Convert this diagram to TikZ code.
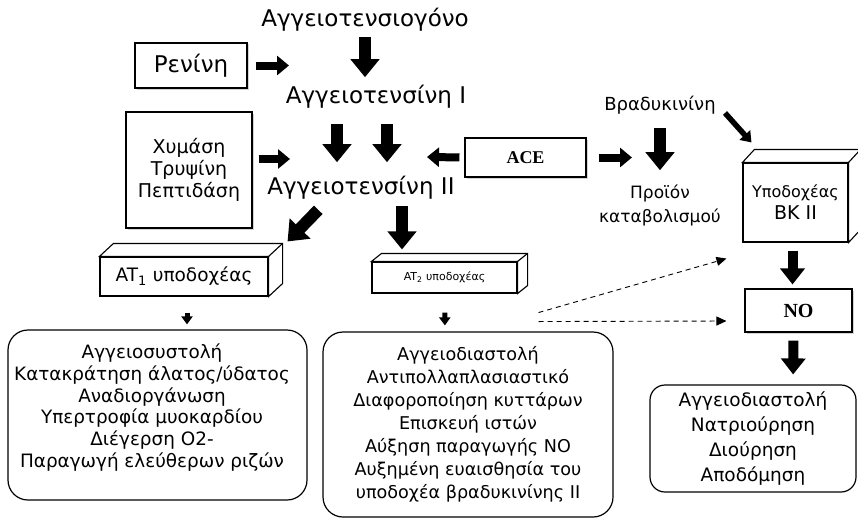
\documentclass[tikz,border=0pt]{standalone}
\usepackage{fontspec}
\setmainfont{DejaVu Sans}
\newfontfamily\timesfont{Liberation Serif}
\usepackage{tikz}
\usetikzlibrary{arrows.meta,shadows}

\newcommand{\bigtxt}{\fontsize{23}{26}\selectfont}

\tikzset{
  lbl/.style={inner sep=0pt, align=center},
  box/.style={draw, line width=1.1pt, fill=white, inner sep=0pt, align=center},
  shadowbox/.style={box, drop shadow={opacity=0.35, shadow xshift=1.5pt, shadow yshift=-1.5pt}},
  effbox/.style={draw, line width=1.2pt, rounded corners=20pt, inner sep=0pt, align=center},
  blk/.style={line width=12pt, -{Triangle[width=28pt,length=18pt]}},
  blkb/.style={line width=10pt, -{Triangle[width=24pt,length=16pt]}},
  blkm/.style={line width=8pt, -{Triangle[width=19pt,length=12pt]}},
  blkt/.style={line width=5.5pt, -{Triangle[width=14pt,length=10pt]}},
  blks/.style={line width=5pt, -{Triangle[width=11pt,length=8pt]}},
  dasharrow/.style={line width=0.9pt, dash pattern=on 5pt off 4pt, -{Triangle[width=9pt,length=10pt]}},
}

\begin{document}
\begin{tikzpicture}[x=1pt, y=-1pt]
\useasboundingbox (0,0) rectangle (858,519);

% angiotensin chain
\node[lbl, font=\bigtxt] (agen) at (365,20) {Αγγειοτενσιογόνο};
\node[lbl, font=\bigtxt] (ang1) at (376,97) {Αγγειοτενσίνη I};
\node[lbl, font=\bigtxt] (ang2) at (361,188) {Αγγειοτενσίνη II};

% enzymes
\node[shadowbox, minimum width=112pt, minimum height=45pt, font=\bigtxt] (renin) at (191,65.5) {Ρενίνη};
\node[shadowbox, minimum width=126pt, minimum height=116pt, font=\fontsize{19}{22}\selectfont] (chym) at (189,170) {Χυμάση\\Τρυψίνη\\Πεπτιδάση};
\node[shadowbox, minimum width=121pt, minimum height=39pt, font=\timesfont\bfseries\fontsize{18}{20}\selectfont] (ace) at (525.5,157.5) {ACE};
\coordinate (reninTip) at (289,65.5);
\coordinate (chymTip) at (290,159);
\coordinate (aceTip) at (427,157);
\coordinate (aceOut) at (632,157.5);

% bradykinin
\node[lbl, font=\fontsize{18}{20}\selectfont] (brady) at (660,105) {Βραδυκινίνη};
\node[lbl, font=\fontsize{17}{24}\selectfont] (prod) at (660,205) {Προϊόν\\καταβολισμού};

% receptors
\node[box, minimum width=105pt, minimum height=79pt, font=\fontsize{16}{19}\selectfont] (bk) at (795.5,202.5) {Υποδοχέας\\[3pt]{\fontsize{19}{19}\selectfont BK II}};
\node[box, minimum width=168pt, minimum height=39pt, font=\fontsize{18.5}{20}\selectfont] (at1) at (184,276.5) {AT\textsubscript{1} υποδοχέας};
\node[box, minimum width=145pt, minimum height=31pt, font=\fontsize{11}{13}\selectfont] (at2) at (444.5,277.5) {AT\textsubscript{2} υποδοχέας};
\node[shadowbox, minimum width=107pt, minimum height=43pt, font=\timesfont\bfseries\fontsize{20}{22}\selectfont] (no) at (798.5,310.5) {NO};

\foreach \b/\dx/\dy in {at1/14/13, at2/10/8, bk/12/13}
{
\draw[box] (\b.north west) -- ++(\dx,-\dy) -- ([shift={(\dx,-\dy)}]\b.north east) -- ([shift={(\dx,-\dy)}]\b.south east) -- (\b.south east) -- (\b.north east) -- cycle;
\draw[line width=1.1pt] (\b.north east) -- ++(\dx,-\dy);
}

% effects
\node[effbox, minimum width=299pt, minimum height=170pt] (eff1) at (157.5,415) {};
\node[lbl, font=\fontsize{18.4}{21.8}\selectfont] (eff1txt) at (152,407.5) {Αγγειοσυστολή\\Κατακράτηση άλατος/ύδατος\\Αναδιοργάνωση\\Υπερτροφία μυοκαρδίου\\Διέγερση O2-\\Παραγωγή ελεύθερων ριζών};
\node[effbox, minimum width=290pt, minimum height=185pt, font=\fontsize{17.6}{23}\selectfont] (eff2) at (468,424.5) {Αγγειοδιαστολή\\Αντιπολλαπλασιαστικό\\Διαφοροποίηση κυττάρων\\Επισκευή ιστών\\Αύξηση παραγωγής NO\\Αυξημένη ευαισθησία του\\υποδοχέα βραδυκινίνης II};
\node[effbox, rounded corners=15pt, minimum width=206pt, minimum height=107pt, font=\fontsize{18.5}{25}\selectfont] (eff3) at (753,438.5) {Αγγειοδιαστολή\\Νατριούρηση\\Διούρηση\\Αποδόμηση};

% arrows
\draw[blk, shorten <=5pt, shorten >=8pt] (agen.south) -- ([xshift=-11pt]ang1.north);
\draw[blk, shorten <=15pt, shorten >=14pt] ([xshift=-39pt]ang1.south) -- ([xshift=-24pt]ang2.north);
\draw[blk, shorten <=15pt, shorten >=14pt] ([xshift=11pt]ang1.south) -- ([xshift=26pt]ang2.north);
\draw[blkm, shorten <=8pt] (renin.east) -- (reninTip);
\draw[blkm, shorten <=6pt] ([yshift=11pt]chym.east) -- (chymTip);
\draw[blkm, shorten <=5pt] (ace.west) -- (aceTip);
\draw[blkm, shorten <=12pt] (ace.east) -- (aceOut);
\draw[blk, shorten <=14pt, shorten >=14pt] (brady.south) -- (prod.north);
\draw[blkt] ([shift={(65,8)}]brady.center) -- ([shift={(9,-20)}]bk.north west);
\draw[blk, shorten <=14pt] ([xshift=-33pt]ang2.south) -- ([shift={(19,-15)}]at1.north east);
\draw[blk, shorten <=6pt, shorten >=12pt] ([xshift=41pt]ang2.south) -- ([xshift=-42.5pt]at2.north);
\draw[blks, shorten <=16pt, shorten >=5pt] ([xshift=3pt]at1.south) -- ([xshift=29.5pt]eff1.north);
\draw[blks, shorten <=19pt, shorten >=6pt] (at2.south) -- ([xshift=-23pt]eff2.north);
\draw[blkb, shorten <=8pt, shorten >=4pt] ([xshift=-3pt]bk.south) -- ([xshift=-6pt]no.north);
\draw[blkb, shorten <=8pt, shorten >=10pt] ([xshift=-5pt]no.south) -- ([xshift=40pt]eff3.north);
\draw[dasharrow] ([shift={(21,19)}]at2.south east) -- ([shift={(-16,16)}]bk.south west);
\draw[dasharrow] ([shift={(21,28)}]at2.south east) -- ([shift={(-18,10.5)}]no.west);

\end{tikzpicture}
\end{document}
